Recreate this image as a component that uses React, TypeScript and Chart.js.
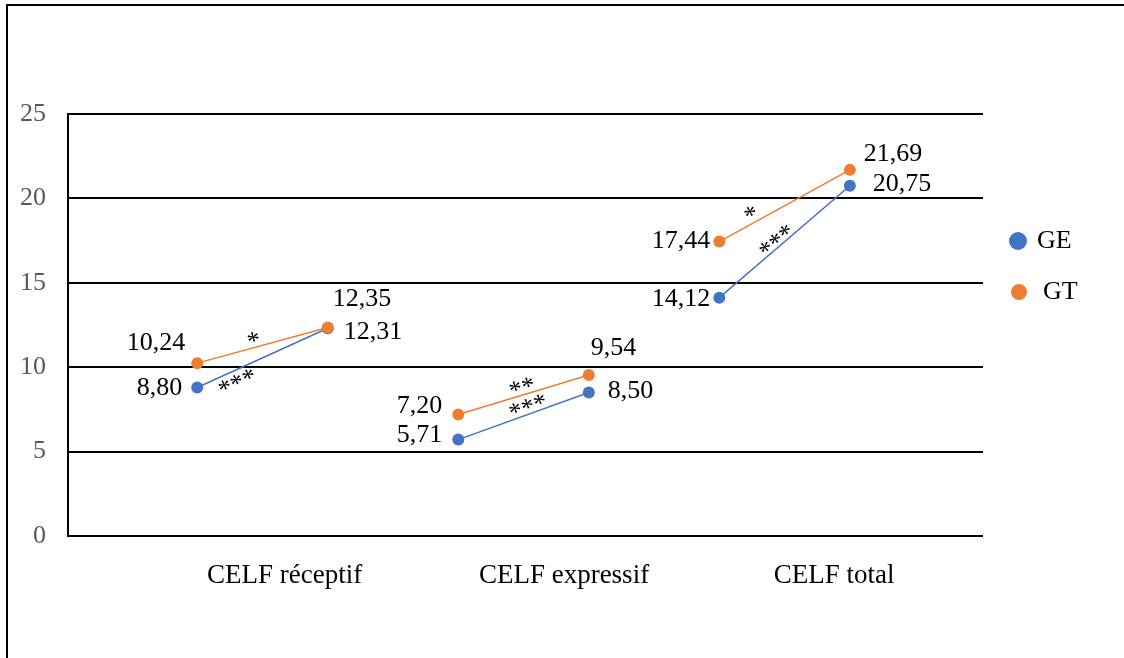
import React, { useEffect, useRef } from "react";
import { Chart, registerables } from "chart.js";

Chart.register(...registerables);

// ---------- data ----------
const categories = ["CELF réceptif", "CELF expressif", "CELF total"];
const seriesNames = ["GE", "GT"];
const gePre = [8.8, 5.71, 14.12];
const gePost = [12.31, 8.5, 20.75];
const gtPre = [10.24, 7.2, 17.44];
const gtPost = [12.35, 9.54, 21.69];
const geSig = ["***", "***", "***"];
const gtSig = ["*", "**", "*"];
const yTickValues = [0, 5, 10, 15, 20, 25];

// ---------- style / layout ----------
const BLUE = "#4472C4";
const ORANGE = "#ED7D31";
const FONT = "'Liberation Serif', 'Times New Roman', serif";
const CAT_TICK_POS = [1.67, 3.81, 5.88];

// label offsets [dx, dy, align] for pre/post of each category
const labelLayout = {
  GE: [
    [-15, 0.5, "right"], [16, 4, "left"],
    [-16, -4, "right"], [19, -1, "left"],
    [-9, 1.3, "right"], [23, -2, "left"],
  ],
  GT: [
    [-12, -20, "right"], [5, -28, "left"],
    [-16, -8.5, "right"], [2, -26.5, "left"],
    [-9, -0.6, "right"], [14, -15.5, "left"],
  ],
};
// significance star offsets from segment midpoint
const sigLayout = {
  GE: [[-26, 23], [4, -11], [-9, -2]],
  GT: [[-9, -7], [-2, -9], [-34, 7]],
};
const legendItems = [
  { label: "GE", color: BLUE, cx: 1018, cy: 241, r: 9, tx: 1037 },
  { label: "GT", color: ORANGE, cx: 1019, cy: 292, r: 8, tx: 1043 },
];

function buildSeries(pre: number[], post: number[]) {
  const out: { x: number; y: number | null }[] = [];
  pre.forEach((v, i) => {
    if (i > 0) out.push({ x: 2 * i + 0.5, y: null });
    out.push({ x: 2 * i + 1, y: v });
    out.push({ x: 2 * i + 2, y: post[i] });
  });
  return out;
}

const fmt = (v: number) => v.toFixed(2).replace(".", ",");

const annotPlugin = {
  id: "annot",
  afterDatasetsDraw(chart: any) {
    const ctx = chart.ctx as CanvasRenderingContext2D;
    const sets = [
      { pre: gePre, post: gePost, sig: geSig, lay: labelLayout.GE, sl: sigLayout.GE },
      { pre: gtPre, post: gtPost, sig: gtSig, lay: labelLayout.GT, sl: sigLayout.GT },
    ];
    ctx.save();
    ctx.fillStyle = "#000";
    ctx.textBaseline = "middle";
    sets.forEach((s, di) => {
      const meta = chart.getDatasetMeta(di);
      s.pre.forEach((v, i) => {
        const a = meta.data[3 * i];
        const b = meta.data[3 * i + 1];
        const vals = [v, s.post[i]];
        [a, b].forEach((el: any, k: number) => {
          const [dx, dy, align] = s.lay[2 * i + k] as [number, number, CanvasTextAlign];
          ctx.font = `26px ${FONT}`;
          ctx.textAlign = align;
          ctx.fillText(fmt(vals[k]), el.x + dx, el.y + dy);
        });
        const ang = Math.atan2(b.y - a.y, b.x - a.x);
        const [sx, sy] = s.sl[i];
        ctx.save();
        ctx.translate((a.x + b.x) / 2 + sx, (a.y + b.y) / 2 + sy);
        ctx.rotate(ang);
        ctx.font = `26px ${FONT}`;
        ctx.textAlign = "center";
        ctx.fillText(s.sig[i], 0, 4);
        ctx.restore();
      });
    });
    // legend
    legendItems.forEach((it, idx) => {
      ctx.beginPath();
      ctx.fillStyle = it.color;
      ctx.arc(it.cx, it.cy, it.r, 0, Math.PI * 2);
      ctx.fill();
      ctx.fillStyle = "#000";
      ctx.font = `26px ${FONT}`;
      ctx.textAlign = "left";
      ctx.fillText(seriesNames[idx], it.tx, it.cy);
    });
    ctx.restore();
  },
};

export default function App() {
  const ref = useRef<HTMLCanvasElement | null>(null);
  useEffect(() => {
    if (!ref.current) return;
    const chart = new Chart(ref.current, {
      type: "line",
      data: {
        datasets: [
          {
            label: seriesNames[0],
            data: buildSeries(gePre, gePost) as any,
            borderColor: BLUE,
            backgroundColor: BLUE,
            borderWidth: 1.5,
            pointRadius: 6,
            pointBorderWidth: 0,
            pointBackgroundColor: BLUE,
            spanGaps: false,
            order: 1,
          },
          {
            label: seriesNames[1],
            data: buildSeries(gtPre, gtPost) as any,
            borderColor: ORANGE,
            backgroundColor: ORANGE,
            borderWidth: 1.5,
            pointRadius: 6,
            pointBorderWidth: 0,
            pointBackgroundColor: ORANGE,
            spanGaps: false,
            order: 0,
          },
        ],
      },
      options: {
        responsive: false,
        animation: false,
        devicePixelRatio: 1,
        layout: { padding: { top: 114, right: 141, left: 0, bottom: 0 } },
        plugins: { legend: { display: false }, tooltip: { enabled: false } },
        scales: {
          x: {
            type: "linear",
            min: 0.01,
            max: 7.02,
            grid: { display: false, drawTicks: false },
            border: { display: false },
            afterBuildTicks: (scale: any) => {
              scale.ticks = CAT_TICK_POS.map((v) => ({ value: v }));
            },
            afterFit: (scale: any) => {
              scale.height = 122;
            },
            ticks: {
              autoSkip: false,
              maxRotation: 0,
              padding: 24,
              color: "#000",
              font: { family: FONT, size: 27 },
              callback: (_v: any, i: number) => categories[i],
            },
          },
          y: {
            min: 0,
            max: 25,
            afterBuildTicks: (scale: any) => {
              scale.ticks = yTickValues.map((v) => ({ value: v }));
            },
            afterFit: (scale: any) => {
              scale.width = 68;
            },
            grid: { color: "#000", lineWidth: 2, drawTicks: false },
            border: { display: true, color: "#000", width: 2 },
            ticks: {
              padding: 22,
              color: "#595959",
              font: { family: FONT, size: 26 },
            },
          },
        },
      },
      plugins: [annotPlugin],
    });
    return () => chart.destroy();
  }, []);

  return (
    <div style={{ position: "absolute", left: 0, top: 0, width: 1124, height: 658, background: "#fff", overflow: "hidden" }}>
      <canvas ref={ref} width={1124} height={658} style={{ position: "absolute", left: 0, top: 0, width: 1124, height: 658 }} />
      <div
        style={{
          position: "absolute",
          left: 6,
          top: 4,
          width: 1124,
          height: 660,
          borderLeft: "2px solid #000",
          borderTop: "2px solid #000",
          pointerEvents: "none",
        }}
      />
    </div>
  );
}
